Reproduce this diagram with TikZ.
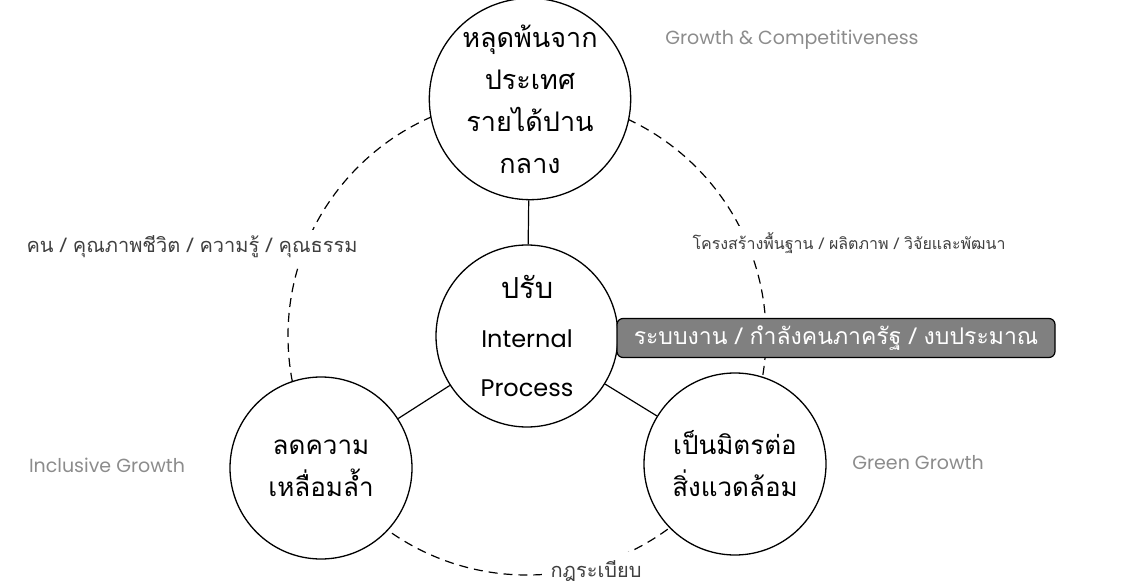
\documentclass[tikz,border=0pt]{standalone}
\usepackage{fontspec}
\newfontfamily\thaifont[Script=Thai]{Loma}
\newfontfamily\latinfont{Poppins}
\usetikzlibrary{positioning}

\tikzset{
  bubble/.style={circle, draw, line width=1.3pt, minimum size=182pt, inner sep=0pt, align=center, fill=white},
  ring/.style={line width=1.2pt, dash pattern=on 9pt off 6pt},
  spoke/.style={line width=1.2pt},
  thailabel/.style={fill=white, inner sep=6pt, text=black!75, font=\thaifont\fontsize{20}{24}\selectfont},
  englabel/.style={inner sep=2pt, text=black!45, font=\latinfont\fontsize{19}{24}\selectfont}
}

\begin{document}
\begin{tikzpicture}[x=1pt,y=1pt,yscale=-1]
    \useasboundingbox (0,0) rectangle (1146,585);

    %Shape: dashed ring
    \draw [ring] (527,336) circle [radius=239pt];

    %Shape: Circle (centre)
    \node [bubble, font=\latinfont\fontsize{24}{49}\selectfont] (hub) at (527,336)
      {{\thaifont\fontsize{29}{49}\selectfont ปรับ}\\Internal\\Process};
    %Shape: Circle (top)
    \node [bubble, font=\thaifont\fontsize{27}{42}\selectfont] (top) at (530,99)
      {หลุดพ้นจาก\\ประเทศ\\รายได้ปาน\\กลาง};
    %Shape: Circle (bottom left)
    \node [bubble, font=\thaifont\fontsize{26}{42}\selectfont] (left) at (321,468)
      {ลดความ\\เหลื่อมล้ำ};
    %Shape: Circle (bottom right)
    \node [bubble, font=\thaifont\fontsize{26}{42}\selectfont] (right) at (735,464)
      {เป็นมิตรต่อ\\สิ่งแวดล้อม};

    % spokes
    \draw [spoke] (hub) -- (top);
    \draw [spoke] (hub) -- (left);
    \draw [spoke] (hub) -- (right);

    % Text Node
    \node [thailabel] (people) at (192,247) {คน / คุณภาพชีวิต / ความรู้ / คุณธรรม};
    % Text Node
    \node [thailabel, font=\thaifont\fontsize{16}{24}\selectfont] (infra) at (849,243) {โครงสร้างพื้นฐาน / ผลิตภาพ / วิจัยและพัฒนา};
    % Text Node
    \node [thailabel, inner sep=9pt] (rules) at (596,571) {กฎระเบียบ};

    % Text Node
    \node [englabel] (gc) at (792,40) {Growth \& Competitiveness};
    % Text Node
    \node [englabel] (ig) at (107,465) {Inclusive Growth};
    % Text Node
    \node [englabel] (gg) at (918,463) {Green Growth};

    % band
    \node [draw, line width=1.2pt, fill=black!50, rounded corners=6pt, minimum width=438pt, minimum height=39pt,
           inner sep=0pt, text=white, font=\thaifont\fontsize{23}{24}\selectfont] (band) at (836,338)
      {ระบบงาน / กำลังคนภาครัฐ / งบประมาณ};

\end{tikzpicture}
\end{document}
